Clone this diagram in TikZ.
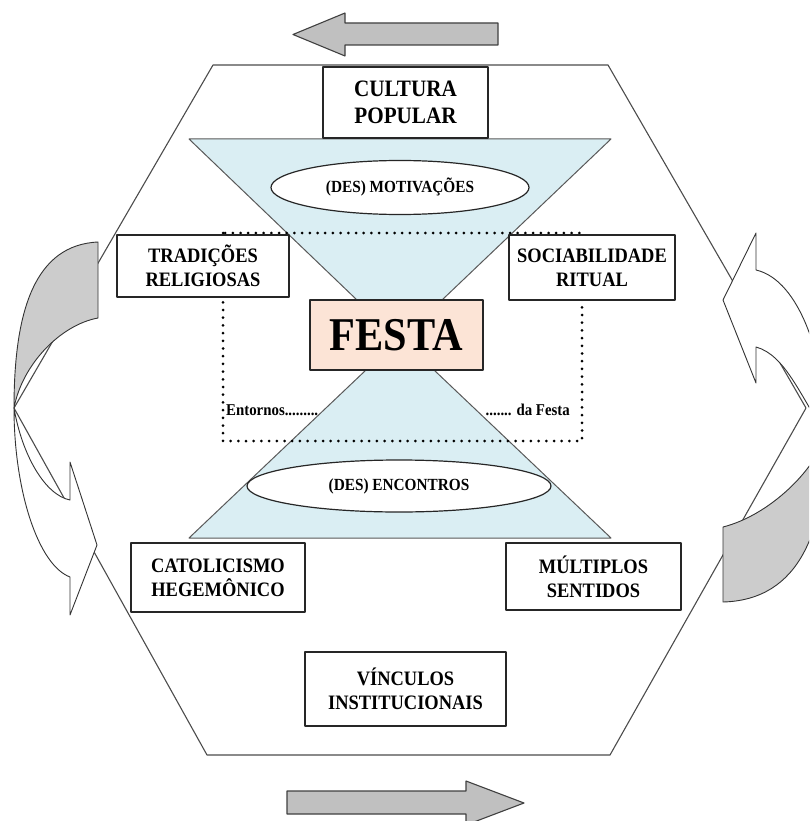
\documentclass[tikz,border=0pt]{standalone}
\usepackage{fontspec}
\setmainfont{Liberation Serif}[FakeStretch=0.9]
\usepackage{tikz}
\usetikzlibrary{shapes.geometric}

\definecolor{funil}{RGB}{218,238,243}
\definecolor{festacor}{RGB}{252,228,214}
\definecolor{setacor}{RGB}{192,192,192}
\definecolor{curvacor}{RGB}{204,204,204}

\begin{document}
\begin{tikzpicture}[x=1pt,y=-1pt,line join=round,
  hexline/.style={draw=black!70,line width=1.1pt},
  flatarrow/.style={draw=black!75,line width=1.1pt,fill=setacor},
  curveline/.style={draw=black!80,line width=0.9pt},
  funnel/.style={draw=black!65,line width=1pt,fill=funil},
  box/.style={draw=black!85,line width=1.2pt,fill=white,align=center,inner sep=0pt,
    font=\fontsize{20.5}{24}\selectfont\bfseries},
  oval/.style={ellipse,draw=black!85,line width=1.2pt,fill=white,inner sep=0pt,
    font=\fontsize{17}{20}\selectfont\bfseries},
  entorno/.style={line width=3pt,dash pattern=on 0pt off 7.7pt,line cap=round},
  rotulo/.style={inner sep=0pt,font=\fontsize{16.5}{19}\selectfont\bfseries}]

\clip (0,0) rectangle (809,821);

% Draw hexagon.
\draw[hexline] (213,65) -- (608,65) -- (806,408) -- (610,755) -- (207,755) -- (14,408) -- cycle;

% Draw straight arrows, top and bottom.
\draw[flatarrow] (498,23) -- (345,23) -- (345,13) -- (293,34.5) -- (345,56) -- (345,45) -- (498,45) -- cycle;
\draw[flatarrow] (287,791) -- (466,791) -- (466,781) -- (524,803) -- (466,825) -- (466,814) -- (287,814) -- cycle;

% Draw curved arrow, left.
\filldraw[curveline,fill=curvacor] (98,242) .. controls (35,245) and (14,310) .. (14,408)
  .. controls (22,365) and (60,325) .. (98,318) -- cycle;
\filldraw[curveline,fill=white] (14,408) .. controls (14,490) and (38,565) .. (70,577)
  -- (70,615) -- (97,545) -- (70,462) -- (70,500)
  .. controls (45,495) and (22,455) .. (14,408) -- cycle;

% Draw curved arrow, right.
\filldraw[curveline,fill=curvacor] (723,602) .. controls (800,600) and (826,530) .. (826,435)
  .. controls (815,470) and (770,515) .. (723,527) -- cycle;
\filldraw[curveline,fill=white] (826,435) .. controls (826,360) and (800,280) .. (756,270)
  -- (756,233) -- (723,300) -- (756,383) -- (756,347)
  .. controls (785,355) and (800,395) .. (826,435) -- cycle;

% Draw the two funnels.
\filldraw[funnel] (189,139) -- (611,139) -- (442,300) -- (357,300) -- cycle;
\filldraw[funnel] (366,370) -- (434,370) -- (611,538) -- (189,538) -- cycle;

\node[oval,minimum width=258pt,minimum height=54pt] (motiv) at (400,187.5) {(DES) MOTIVAÇÕES};
\node[oval,minimum width=304pt,minimum height=52pt] (encont) at (399,486) {(DES) ENCONTROS};

% Dotted surroundings.
\draw[entorno] (223,233) rectangle (582,441);
\node[rotulo,anchor=base west] (entornos) at (226,415) {Entornos.........};
\node[rotulo,anchor=base east] (dafesta) at (570,415) {....... da Festa};

% Boxes.
\node[box,minimum width=165pt,minimum height=71pt,
  font=\fontsize{23.5}{27}\selectfont\bfseries] (cultura) at (405.5,102.5) {CULTURA\\POPULAR};
\node[box,minimum width=172pt,minimum height=62pt] (tradicoes) at (203,266) {TRADIÇÕES\\RELIGIOSAS};
\node[box,minimum width=166pt,minimum height=65pt] (sociab) at (592,267.5) {SOCIABILIDADE\\RITUAL};
\node[box,minimum width=174pt,minimum height=69pt] (catol) at (218,577.5) {CATOLICISMO\\HEGEMÔNICO};
\node[box,minimum width=175pt,minimum height=67pt] (multiplos) at (593.5,576.5) {MÚLTIPLOS\\SENTIDOS};
\node[box,minimum width=201pt,minimum height=74pt] (vinculos) at (405.5,689) {VÍNCULOS\\INSTITUCIONAIS};

\node[box,fill=festacor,minimum width=173pt,minimum height=70pt,
  font=\fontsize{47}{50}\selectfont\bfseries] (festa) at (396.5,335) {FESTA};

\end{tikzpicture}
\end{document}
